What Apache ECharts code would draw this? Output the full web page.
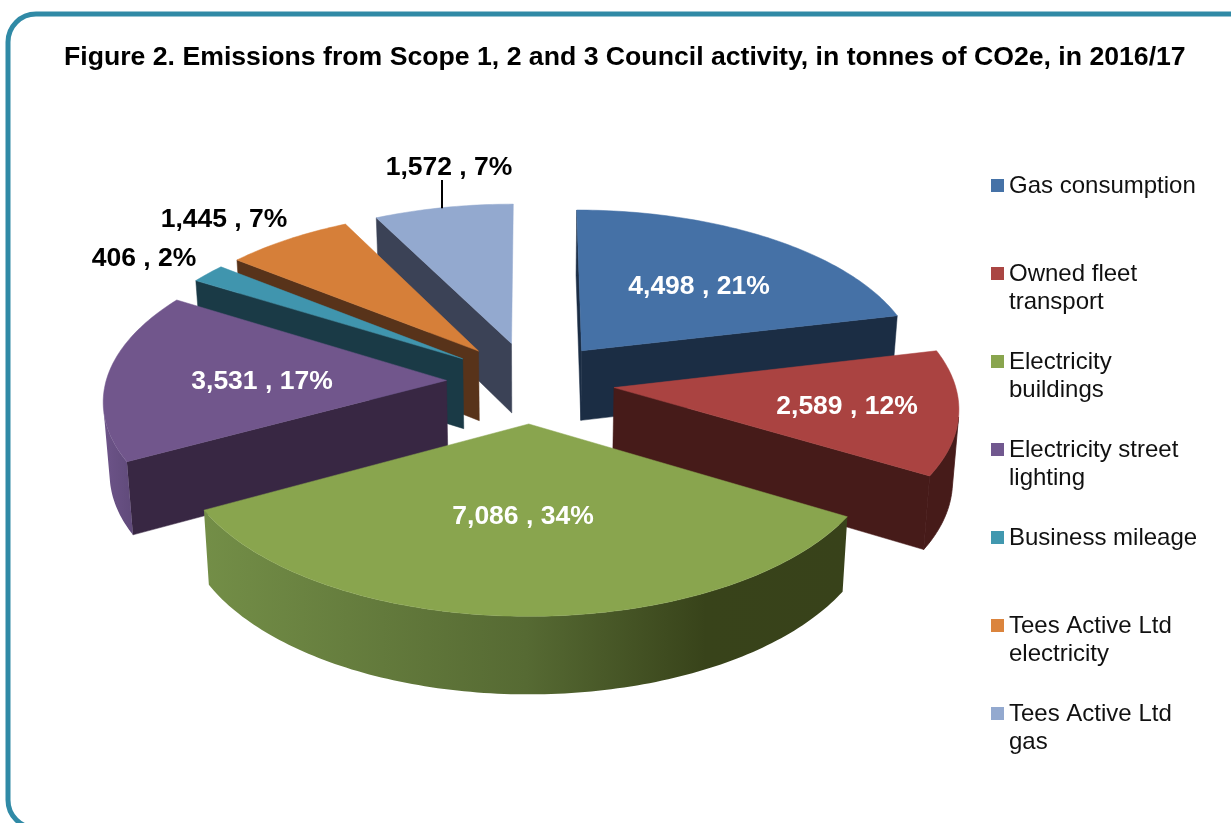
<!DOCTYPE html>
<html>
<head>
<meta charset="utf-8">
<style>html,body{margin:0;padding:0;background:#fff;overflow:hidden}#c{width:1231px;height:823px}</style>
<script src="https://cdn.jsdelivr.net/npm/echarts@6/dist/echarts.min.js"></script>
</head>
<body>
<div id="c"></div>
<script>
// ---- data ----
const categories = ['Gas consumption','Owned fleet transport','Electricity buildings','Electricity street lighting','Business mileage','Tees Active Ltd electricity','Tees Active Ltd gas'];
const values = [4498,2589,7086,3531,406,1445,1572];
const legendLines = ['Gas consumption\n ','Owned fleet\ntransport','Electricity\nbuildings','Electricity street\nlighting','Business mileage\n ','Tees Active Ltd\nelectricity','Tees Active Ltd\ngas'];
const titleText = 'Figure 2. Emissions from Scope 1, 2 and 3 Council activity, in tonnes of CO2e, in 2016/17';

// ---- style ----
const FONT = '"Liberation Sans", Arial, sans-serif';
const topColors  = ['#4571a6','#aa4341','#89a54e','#71568c','#4095ae','#d67f39','#93a9cf'];
const legendColors = ['#4572a7','#aa4643','#89a54e','#71588f','#4198af','#db843d','#93a9cf'];
const wallColors = ['#1b2d44','#461b19','#374219','#382743','#1a3a46','#58331a','#3b4256'];
const rimColors  = [
  ['#1b2d44','#1b2d44'],['#461b19','#461b19'],null,['#6d5489','#604a7a'],['#1a3a46','#1a3a46'],['#58331a','#58331a'],['#3b4256','#3b4256']
];
const greenRim = [[0,'#738e47'],[0.5,'#566a33'],[0.78,'#38431a'],[1,'#38421a']];
const labelAnchors = [[699,287,'#fff'],[847,407,'#fff'],[523,517,'#fff'],[262,382,'#fff'],[144,259,'#000'],[224,220,'#000'],[449,168,'#000']];
const explosion = [0.247,0.247,0.255,0.247,0.247,0.247,0.247];
const leaderIndex = 6;

// ---- projection of the exploded 3D pie ----
const CX=530.5, CY=381.5, A=340.5, B=162, P=0.107, H=70.6, SHRINK=0.015, STEP=Math.PI/180, MIN_WALL=300;
function project(X,Y,d){
  const s=1/(1-P*Y), k=1-SHRINK*d;
  return [CX+A*X*s*k, CY+B*Y*s*k+H*d*s];
}
const total = values.reduce((a,b)=>a+b,0);
const slices = [];
values.reduce((acc,v,i)=>{
  const a0=acc/total*2*Math.PI, a1=(acc+v)/total*2*Math.PI, m=(a0+a1)/2;
  slices.push({i,a0,a1,ox:explosion[i]*Math.sin(m),oy:-explosion[i]*Math.cos(m)});
  return acc+v;
},0);
function rimPt(sl,a,d){ return project(sl.ox+Math.sin(a), sl.oy-Math.cos(a), d); }
function cross(p,q,r){ return (q[0]-p[0])*(r[1]-q[1])-(q[1]-p[1])*(r[0]-q[0]); }

function renderSlice(index){
  return function(params,api){
    const sl=slices[index], children=[];
    const apexT=project(sl.ox,sl.oy,0), apexB=project(sl.ox,sl.oy,1);
    const n=Math.max(2,Math.ceil((sl.a1-sl.a0)/STEP));
    const angs=[]; for(let k=0;k<=n;k++) angs.push(sl.a0+(sl.a1-sl.a0)*k/n);
    const arcT=angs.map(a=>rimPt(sl,a,0)), arcB=angs.map(a=>rimPt(sl,a,1));
    // radial walls, only where they face the viewer
    const wall=(pts)=>children.push({type:'polygon',shape:{points:pts},style:{fill:wallColors[index],stroke:wallColors[index],lineWidth:0.5}});
    if(cross(arcT[0],apexT,apexB)>MIN_WALL) wall([arcT[0],apexT,apexB,arcB[0]]);
    if(cross(apexT,arcT[n],arcB[n])>MIN_WALL) wall([apexT,arcT[n],arcB[n],apexB]);
    // outer rim, only the facing run
    let first=-1,last=-1;
    for(let k=0;k<n;k++){
      if(cross(arcT[k],arcT[k+1],arcB[k+1])<0){ if(first<0) first=k; last=k+1; }
    }
    if(first>=0){
      const pts=arcT.slice(first,last+1).concat(arcB.slice(first,last+1).reverse());
      const rc=rimColors[index];
      const stops=rc?[[0,rc[0]],[1,rc[1]]]:greenRim;
      const flat=rc&&rc[0]===rc[1];
      children.push({type:'polygon',shape:{points:pts},style:{
        fill:{type:'linear',x:0,y:0,x2:1,y2:0,colorStops:stops.map(s=>({offset:s[0],color:s[1]}))},
        stroke:flat?rc[0]:null,lineWidth:flat?0.8:0
      }});
    }
    // top face
    children.push({type:'polygon',shape:{points:[apexT].concat(arcT)},style:{fill:topColors[index],stroke:topColors[index],lineWidth:0.5}});
    // label
    const la=labelAnchors[index], v=api.value(0);
    children.push({type:'text',z2:100,style:{
      x:la[0],y:la[1],text:v.toLocaleString('en-US')+' , '+Math.round(v/total*100)+'%',
      fill:la[2],font:'bold 26.5px '+FONT,align:'center',verticalAlign:'middle'
    }});
    if(index===leaderIndex){
      children.push({type:'line',z2:100,shape:{x1:la[0]-7,y1:la[1]+12,x2:la[0]-7,y2:rimPt(sl,sl.a0+(sl.a1-sl.a0)*0.45,0)[1]},style:{stroke:'#000',lineWidth:2}});
    }
    return {type:'group',children};
  };
}

const order = slices.slice().sort((a,b)=>a.oy-b.oy).map(s=>s.i);
const series = order.map(i=>({
  type:'custom',name:categories[i],coordinateSystem:'none',silent:true,
  itemStyle:{color:legendColors[i]},
  data:[[values[i]]],renderItem:renderSlice(i)
}));

const chart = echarts.init(document.getElementById('c'),null,{renderer:'canvas'});
chart.setOption({
  animation:false,
  backgroundColor:'#fff',
  title:{text:titleText,left:64,top:44,padding:0,textStyle:{fontFamily:FONT,fontWeight:'bold',fontSize:26.65,color:'#000',lineHeight:28}},
  tooltip:{show:false},
  legend:{
    data:categories,orient:'vertical',left:991,top:172.5,padding:0,
    selectedMode:false,itemWidth:13,itemHeight:56,itemGap:32,
    icon:'path://M0 6.5H13V19.5H0Z M0 0L0 0 M13 56L13 56',
    formatter:name=>legendLines[categories.indexOf(name)],
    textStyle:{fontFamily:FONT,fontSize:24,color:'#111',lineHeight:28}
  },
  graphic:[{type:'rect',silent:true,z:-1,shape:{x:8,y:14,width:1400,height:814,r:28},style:{fill:'none',stroke:'#308aa6',lineWidth:5}}],
  series
});
</script>
</body>
</html>
